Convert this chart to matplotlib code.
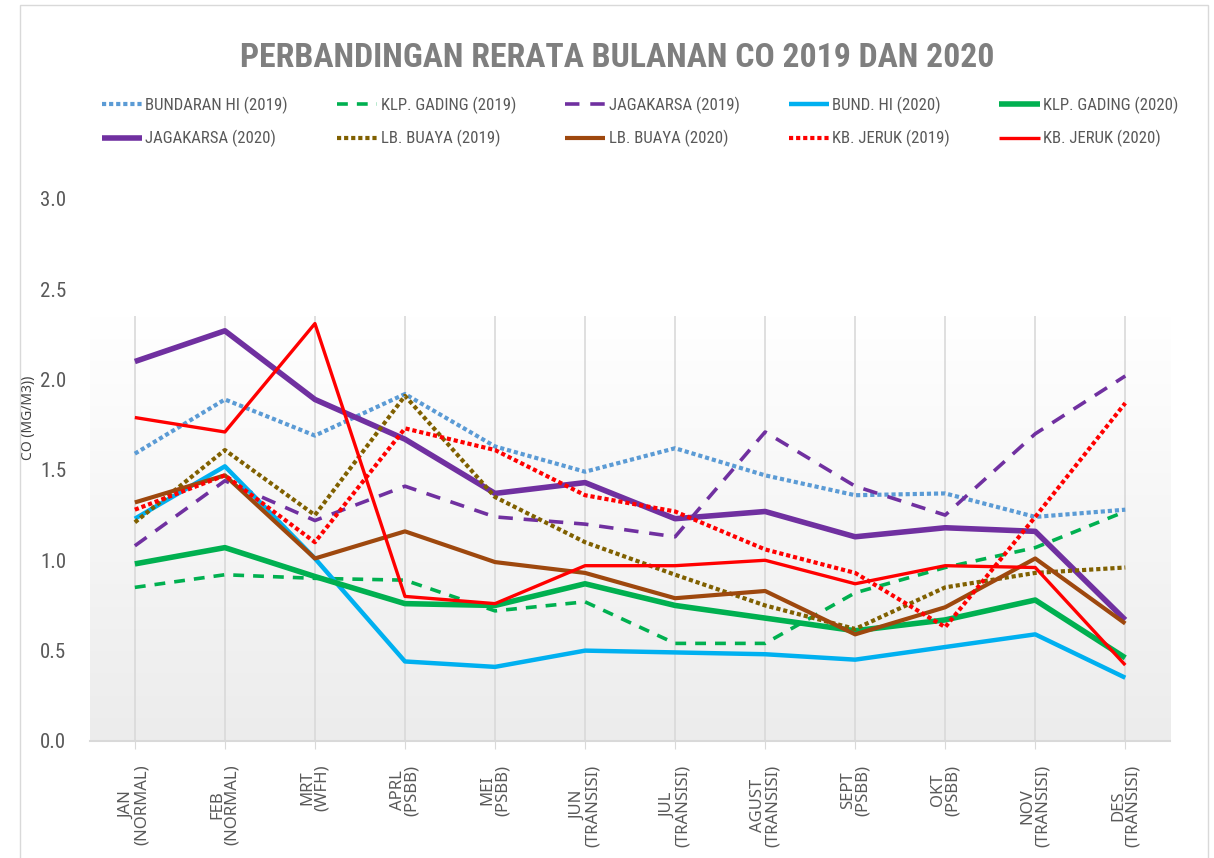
import numpy as np
import matplotlib
matplotlib.use('Agg')
import matplotlib.pyplot as plt
from matplotlib import font_manager as fm
from matplotlib.colors import LinearSegmentedColormap
from matplotlib.patches import Rectangle

months = ['JAN\n(NORMAL)', 'FEB\n(NORMAL)', 'MRT\n(WFH)', 'APRL\n(PSBB)', 'MEI\n(PSBB)',
          'JUN\n(TRANSISI)', 'JUL\n(TRANSISI)', 'AGUST\n(TRANSISI)', 'SEPT\n(PSBB)',
          'OKT\n(PSBB)', 'NOV\n(TRANSISI)', 'DES\n(TRANSISI)']

bundaran_2019 = [1.59, 1.89, 1.69, 1.92, 1.63, 1.49, 1.62, 1.47, 1.36, 1.37, 1.24, 1.28]
klp_gading_2019 = [0.85, 0.92, 0.90, 0.89, 0.72, 0.77, 0.54, 0.54, 0.82, 0.96, 1.07, 1.27]
jagakarsa_2019 = [1.08, 1.44, 1.22, 1.41, 1.24, 1.20, 1.13, 1.71, 1.41, 1.25, 1.70, 2.02]
bund_hi_2020 = [1.23, 1.52, 1.01, 0.44, 0.41, 0.50, 0.49, 0.48, 0.45, 0.52, 0.59, 0.35]
klp_gading_2020 = [0.98, 1.07, 0.91, 0.76, 0.75, 0.87, 0.75, 0.68, 0.61, 0.67, 0.78, 0.46]
jagakarsa_2020 = [2.10, 2.27, 1.89, 1.67, 1.37, 1.43, 1.23, 1.27, 1.13, 1.18, 1.16, 0.67]
lb_buaya_2019 = [1.21, 1.61, 1.25, 1.91, 1.35, 1.10, 0.92, 0.75, 0.62, 0.85, 0.93, 0.96]
lb_buaya_2020 = [1.32, 1.47, 1.01, 1.16, 0.99, 0.93, 0.79, 0.83, 0.59, 0.74, 1.01, 0.65]
kb_jeruk_2019 = [1.28, 1.47, 1.10, 1.73, 1.61, 1.36, 1.27, 1.06, 0.93, 0.63, 1.24, 1.87]
kb_jeruk_2020 = [1.79, 1.71, 2.31, 0.80, 0.76, 0.97, 0.97, 1.00, 0.87, 0.97, 0.96, 0.42]


def narrow_font():
    names = set(f.name for f in fm.fontManager.ttflist)
    for fam in ['Liberation Sans Narrow', 'Roboto Condensed', 'Open Sans Condensed', 'Arial Narrow']:
        if fam in names:
            return {'family': fam}
    for f in fm.fontManager.ttflist:
        if f.name == 'DejaVu Sans' and 'Condensed' in f.fname:
            return {'family': 'DejaVu Sans', 'stretch': 'condensed'}
    return {'family': 'Roboto'}


NARROW = narrow_font()
WIDE = ['Noto Sans', 'DejaVu Sans']
GRAY = '#7f7f7f'
TXT = '#595959'

# label, data, colour, linestyle, width
series = [
    ('BUNDARAN HI (2019)', bundaran_2019, '#5b9bd5', (0, (1, 0.7)), 3.0),
    ('KLP. GADING (2019)', klp_gading_2019, '#00b050', (0, (3, 2.5)), 2.6),
    ('JAGAKARSA (2019)', jagakarsa_2019, '#7030a0', (0, (4, 3)), 2.6),
    ('BUND. HI (2020)', bund_hi_2020, '#00b0f0', '-', 3.2),
    ('KLP. GADING (2020)', klp_gading_2020, '#00b050', '-', 4.0),
    ('JAGAKARSA (2020)', jagakarsa_2020, '#7030a0', '-', 4.0),
    ('LB. BUAYA (2019)', lb_buaya_2019, '#806000', (0, (1, 0.7)), 3.0),
    ('LB. BUAYA (2020)', lb_buaya_2020, '#9e480e', '-', 3.0),
    ('KB. JERUK (2019)', kb_jeruk_2019, '#ff0000', (0, (1, 0.7)), 3.0),
    ('KB. JERUK (2020)', kb_jeruk_2020, '#ff0000', '-', 2.4),
]

fig = plt.figure(figsize=(12.14, 8.58), dpi=100)
fig.patches.append(Rectangle((20 / 1214, -0.01), 1188 / 1214, 1.004, transform=fig.transFigure,
                             fill=False, edgecolor='#d9d9d9', linewidth=1.0))
ax = fig.add_axes([0.074, 0.1364, 0.89, 0.6318])

x = np.arange(len(months))
bg_top = 2.35

# soft gradient behind the lines
grad = np.linspace(0, 1, 256).reshape(-1, 1)
cmap = LinearSegmentedColormap.from_list('bg', ['#ececec', '#ffffff'])
ax.imshow(grad, aspect='auto', cmap=cmap, origin='lower',
          extent=(-0.5, len(months) - 0.5, 0, bg_top), zorder=0)
ax.vlines(x, 0, bg_top, color='#d9d9d9', linewidth=1.2, zorder=1)

handles = {}
for label, data, color, ls, lw in series:
    ln, = ax.plot(x, data, color=color, linestyle=ls, linewidth=lw,
                  label=label, zorder=3, solid_capstyle='butt', dash_capstyle='butt')
    handles[label] = ln

ax.set_xlim(-0.5, len(months) - 0.5)
ax.set_ylim(0, 3.0)
ax.set_yticks([0, 0.5, 1.0, 1.5, 2.0, 2.5, 3.0])
ax.set_yticklabels(['0.0', '0.5', '1.0', '1.5', '2.0', '2.5', '3.0'])
ax.set_xticks(x)
ax.set_xticklabels(months, rotation=90, va='top', ha='center', linespacing=0.9,
                   family=WIDE)

for side in ['left', 'right', 'top']:
    ax.spines[side].set_visible(False)
ax.spines['bottom'].set_color('#d9d9d9')
ax.spines['bottom'].set_linewidth(1.5)
ax.tick_params(axis='y', length=0, pad=17, labelsize=15, labelcolor=TXT)
ax.tick_params(axis='x', length=6, color='#d9d9d9', pad=11, labelsize=12, labelcolor=TXT)
for t in ax.get_yticklabels():
    t.set(**NARROW)

ax.set_ylabel('CO (MG/M3))', fontsize=10, color='#404040', family=WIDE)
ax.yaxis.set_label_coords(-0.05, 0.596)

title = fig.text(0.508, 0.932, 'PERBANDINGAN RERATA BULANAN CO 2019 DAN 2020',
                 ha='center', va='center', fontsize=30, fontweight='bold', color=GRAY, **NARROW)

# measure one legend label to size the legend text like the reference
probe = fig.text(0, 0, 'BUNDARAN HI (2019)', fontsize=15, **NARROW)
fig.canvas.draw()
tw = title.get_window_extent().width
title.set_fontsize(min(30 * 755 / tw, 34))
leg_size = min(15 * 143 / probe.get_window_extent().width, 16)
probe.remove()

order = ['BUNDARAN HI (2019)', 'JAGAKARSA (2020)',
         'KLP. GADING (2019)', 'LB. BUAYA (2019)',
         'JAGAKARSA (2019)', 'LB. BUAYA (2020)',
         'BUND. HI (2020)', 'KB. JERUK (2019)',
         'KLP. GADING (2020)', 'KB. JERUK (2020)']
prop = fm.FontProperties(size=leg_size, **NARROW)
leg = fig.legend([handles[k] for k in order], order, ncol=5, loc='lower left',
                 bbox_to_anchor=(95 / 1214, 0.8205, 1090 / 1214, 0.08), mode='expand',
                 frameon=False, handlelength=2.4, handletextpad=0.2,
                 labelspacing=0.95, borderaxespad=0, prop=prop)
for t in leg.get_texts():
    t.set_color(TXT)

fig.savefig('out.png', dpi=100)
